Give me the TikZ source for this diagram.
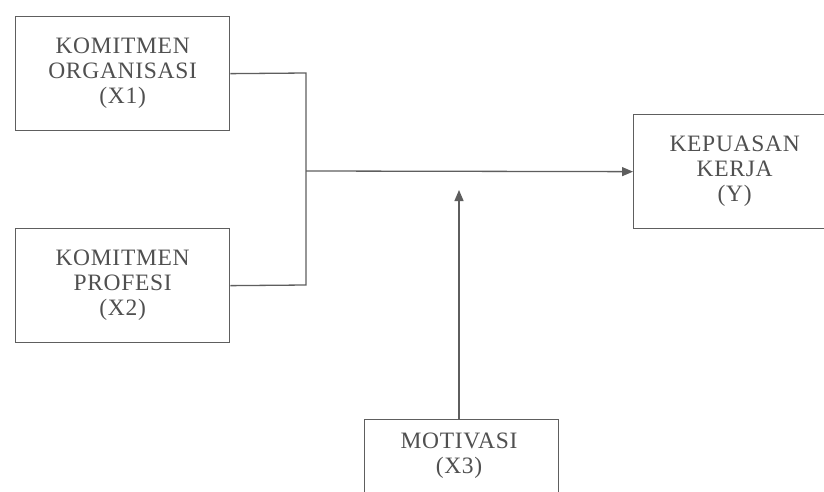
\documentclass[tikz,border=0pt]{standalone}
\usepackage{fontspec}
\setmainfont{Liberation Serif}[LetterSpace=3]
\usetikzlibrary{arrows.meta}
\definecolor{inkline}{HTML}{5E5E5E}
\definecolor{inktext}{HTML}{505050}
\begin{document}
\begin{tikzpicture}[x=1pt,y=-1pt,
  varbox/.style={draw=inkline, line width=1.3pt, rectangle, inner sep=0pt, anchor=north west,
    align=center, text=inktext, font=\fontsize{23.5}{25}\selectfont},
  link/.style={draw=inkline, line width=1.3pt},
  arr/.style={link, -{Triangle[length=11pt,width=9pt]}}]
\useasboundingbox (0,0) rectangle (824,492);
\fill[white] (0,0) rectangle (824,492);
\clip (0,0) rectangle (824,492);
\node[varbox, minimum width=214pt, minimum height=114pt] (x1) at (15,16) {KOMITMEN\\ORGANISASI\\(X1)};
\node[varbox, minimum width=214pt, minimum height=114pt] (x2) at (15,228) {KOMITMEN\\PROFESI\\(X2)};
\node[varbox, minimum width=202pt, minimum height=114pt] (y) at (633,114) {KEPUASAN\\KERJA\\(Y)};
\node[varbox, minimum width=194pt, minimum height=115pt, anchor=north west] (x3) at (364,419) {};
\node[text=inktext, font=\fontsize{23.5}{25}\selectfont, align=center, anchor=north, inner sep=0pt] (x3t) at (459,433) {MOTIVASI\\(X3)};
\coordinate (j1) at (306,73);
\coordinate (j2) at (306,285);
\coordinate (j) at (306,171);
\coordinate (tip) at (459,190);
\draw[link] (x1.east) -- (j1) -- (j2) -- (x2.east);
\draw[arr] (j) -- (y.west);
\draw[arr] (x3.north -| tip) -- (tip);
\end{tikzpicture}
\end{document}
